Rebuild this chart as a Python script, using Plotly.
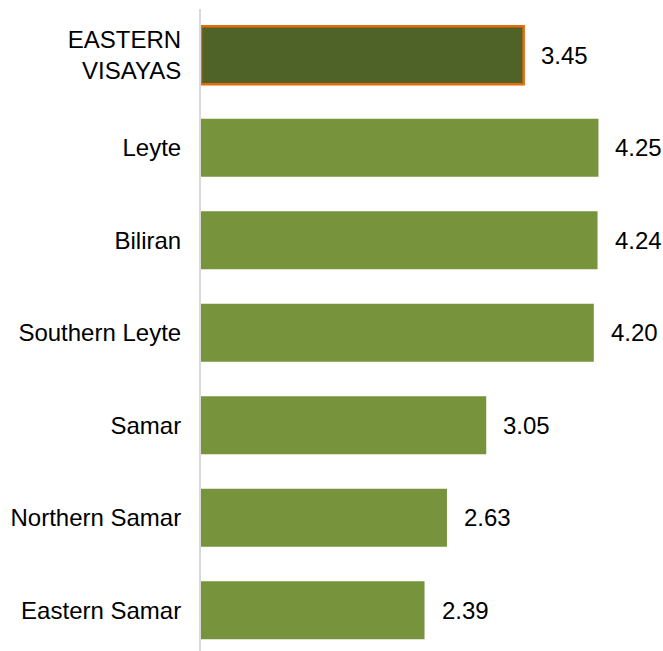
import plotly.graph_objects as go

categories = ["EASTERN<br>VISAYAS", "Leyte", "Biliran", "Southern Leyte", "Samar", "Northern Samar", "Eastern Samar"]
values = [3.45, 4.25, 4.24, 4.20, 3.05, 2.63, 2.39]
value_labels = ["3.45", "4.25", "4.24", "4.20", "3.05", "2.63", "2.39"]

fill_colors = ["#4F6228"] + ["#77933C"] * 6
line_colors = ["#E46C0A"] + ["rgba(0,0,0,0)"] * 6
line_widths = [2.5] + [0] * 6

fig = go.Figure()
fig.add_trace(go.Bar(
    x=values, y=categories, orientation="h",
    marker=dict(color=fill_colors, line=dict(color=line_colors, width=line_widths)),
    hoverinfo="skip",
))

for c, v, t in zip(categories, values, value_labels):
    fig.add_annotation(x=v, y=c, text=t, showarrow=False, xanchor="left",
                       xshift=15, font=dict(family="Liberation Sans, Arial", size=24, color="#000000"))

fig.update_layout(
    width=663, height=651,
    margin=dict(l=201, r=0, t=9, b=0, autoexpand=False),
    paper_bgcolor="white", plot_bgcolor="white",
    bargap=0.373,
    showlegend=False,
    font=dict(family="Liberation Sans, Arial", size=24, color="#000000"),
    xaxis=dict(range=[0, 4.94], visible=False, showgrid=False, zeroline=False),
    yaxis=dict(categoryorder="array", categoryarray=categories,
               range=[6.44, -0.5], showgrid=False, zeroline=False,
               showline=True, linecolor="#D9D9D9", linewidth=2,
               ticks="", ticklabelstandoff=13,
               tickfont=dict(family="Liberation Sans, Arial", size=24, color="#000000")),
)

fig.write_html("out.html",
               config={"displayModeBar": False},
               post_script="document.body.style.margin='0';document.body.style.overflow='hidden';")
